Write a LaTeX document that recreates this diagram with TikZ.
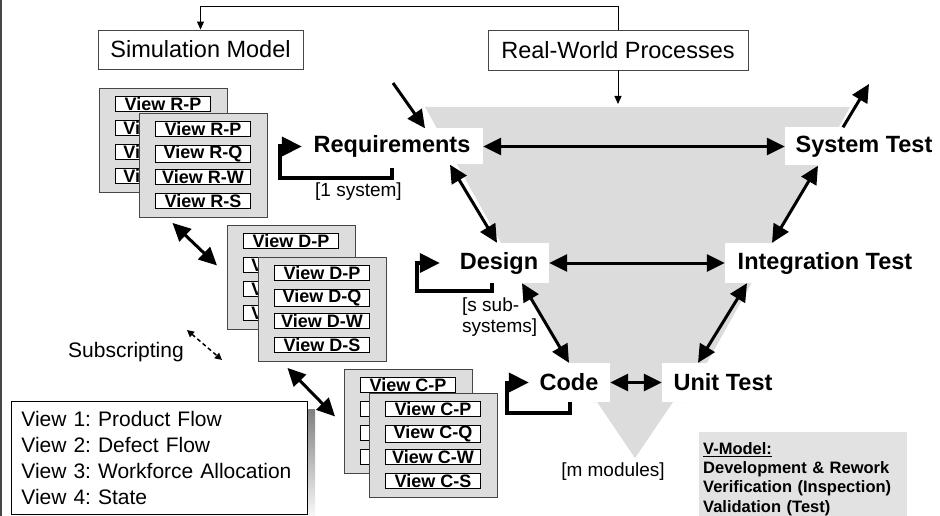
\documentclass[tikz,border=0pt]{standalone}
\usepackage{fontspec}
\setmainfont{Liberation Sans}
\usetikzlibrary{arrows.meta,calc}
\frenchspacing

\definecolor{vgray}{RGB}{220,220,220}
\definecolor{cardgray}{RGB}{221,221,221}
\definecolor{notegray}{RGB}{226,226,226}
\definecolor{shade}{RGB}{112,112,112}
\definecolor{framegray}{RGB}{70,70,70}

% a stack of two view cards: #1 letter, #2/#3 back card corner,
% #4/#5 front card corner, #6 what still shows of the covered back rows
\newcommand\viewstack[6]{%
  \node[card, anchor=north west] (#1b) at (#2,#3) {};
  \node[vlabel, anchor=north west] (#1b-1) at ([xshift=16pt,yshift=-8pt]#1b.north west) {View #1-P};
  \foreach \i [evaluate=\i as \dy using -8-24*(\i-1)] in {2,3,4}
    \node[vlabel, covered, anchor=north west] (#1b-\i) at ([xshift=16pt,yshift=\dy pt]#1b.north west) {#6};
  \node[card, anchor=north west] (#1f) at (#4,#5) {};
  \foreach \s [count=\i, evaluate=\i as \dy using -8-24*(\i-1)] in {P,Q,W,S}
    \node[vlabel, anchor=north west] (#1f-\i) at ([xshift=16pt,yshift=\dy pt]#1f.north west) {View #1-\s};
}

\begin{document}
\begin{tikzpicture}[x=1pt,y=-1pt,
  stage/.style={fill=white, inner sep=0, minimum height=38,
    font=\fontsize{23.5}{28}\selectfont\bfseries},
  topbox/.style={draw=framegray, line width=0.9pt, fill=white, inner sep=0,
    font=\fontsize{23.5}{28}\selectfont},
  card/.style={draw=framegray, line width=0.9pt, fill=cardgray,
    minimum width=128, minimum height=104, inner sep=0},
  vlabel/.style={draw=black, line width=0.9pt, fill=white, minimum width=95,
    minimum height=15, inner sep=0, font=\fontsize{18}{18}\selectfont\bfseries},
  covered/.style={text width=79, inner xsep=8, align=left},
  note/.style={font=\fontsize{19}{21}\selectfont, align=left, inner sep=0},
  dbl/.style={line width=3pt, >={Triangle[length=18pt,width=17pt]}, <->},
  single/.style={line width=3pt, >={Triangle[length=18pt,width=17pt]}, ->},
  thinarr/.style={line width=1pt, >={Triangle[length=8pt,width=7pt]}, ->},
  selfloop/.style={line width=4pt, line join=miter,
    >={Triangle[length=20pt,width=19pt]}, ->},
  subarr/.style={line width=1.5pt, dash pattern=on 4pt off 3pt,
    >={Triangle[length=7pt,width=7pt]}, <->},
  legendbox/.style={draw=black, line width=0.9pt, fill=white, align=left,
    text width=276, inner xsep=10, minimum height=113,
    font=\fontsize{21}{25.7}\selectfont},
  notebox/.style={fill=notegray, align=left, text width=200, inner xsep=4,
    inner ysep=10, font=\fontsize{16.5}{19.3}\selectfont\bfseries}
]
\useasboundingbox (0,0) rectangle (940,516);

% page frame on the left
\draw[framegray, line width=1.5pt] (1,0) -- (1,516);

% V-shaped process funnel ending in a down arrow
\fill[vgray] (425,107) -- (850,107) -- (685,402) -- (673,402) -- (635,458)
  -- (597,402) -- (590,402) -- cycle;

% model and reality
\node[topbox, minimum width=205, minimum height=39] (sim) at (200.5,49.5) {Simulation Model};
\node[topbox, minimum width=260, minimum height=40] (rw) at (618,50) {Real-World Processes};
\draw[thinarr] (rw.north) -- ++(0,-23) -| (sim.north);
\coordinate (vtop) at (618,104);
\draw[thinarr] (rw.south) -- (vtop);

% V-model stages
\node[stage, minimum width=182, minimum height=36] (req) at (392,146.5) {Requirements};
\node[stage, minimum width=158] (sys) at (864,146.5) {System Test};
\node[stage, minimum width=100, minimum height=40] (des) at (499,263) {Design};
\node[stage, minimum width=200, minimum height=40] (integ) at (825,263) {Integration Test};
\node[stage, minimum width=82, minimum height=39] (code) at (569,382.5) {Code};
\node[stage, minimum width=122, minimum height=39] (unit) at (723,382.5) {Unit Test};

\draw[dbl] (req.east) -- (sys.west);
\draw[dbl] ([xshift=58pt]req.south) -- ([xshift=-2pt]des.north);
\draw[dbl] ([xshift=-46pt]sys.south) -- ([xshift=-53pt]integ.north);
\draw[dbl] (des.east) -- (integ.west);
\draw[dbl] ([xshift=23pt]des.south) -- (code.north);
\draw[dbl] ([xshift=-78pt]integ.south) -- ([xshift=-25pt]unit.north);
\draw[dbl] (code.east) -- (unit.west);

\coordinate (feed) at (393,83);
\coordinate (exit) at (869,84);
\draw[single] (feed) -- ([xshift=33pt]req.north);
\draw[single] ([xshift=-21pt]sys.north) -- (exit);

% rework loops
\draw[selfloop] ([yshift=-3pt]req.south) -- ++(0,10) -| ([xshift=-21pt]req.west) -- ([xshift=1pt]req.west);
\draw[selfloop] ([xshift=-7pt]des.south) -- ++(0,8) -| ([xshift=-32pt]des.west) -- ([xshift=-9pt]des.west);
\draw[selfloop] ([xshift=1pt]code.south) -- ++(0,11) -| ([xshift=-21pt]code.west) -- ([xshift=1pt]code.west);

\node[note] (n1) at (358.5,192) {[1 system]};
\node[note, anchor=west] (n2) at (462,317.5) {[s sub-\\systems]};
\node[note] (n3) at (613,472) {[m modules]};

% view cards of the simulation model
\viewstack{R}{99}{88}{139}{113}{Vi}
\viewstack{D}{227}{225}{258}{257}{V}
\viewstack{C}{344}{369}{369}{393}{}

\draw[dbl] ([xshift=-31pt,yshift=-5pt]Rf.south) -- ([xshift=-10pt,yshift=12pt]Db.west);
\draw[dbl] ([xshift=-35pt,yshift=-6pt]Df.south) -- ([xshift=-9pt,yshift=5pt]Cb.west);

\node[font=\fontsize{21}{25}\selectfont] (subs) at (126,352) {Subscripting};
\coordinate (subA) at (187,330);
\coordinate (subB) at (222,360);
\draw[subarr] (subA) -- (subB);

% legend with shadow
\fill[shade] (19,409) rectangle (315,522);
\node[legendbox, anchor=north west] (legend) at (11,401)
  {View 1: Product Flow\\View 2: Defect Flow\\View 3: Workforce Allocation\\View 4: State};

% V-model key
\node[notebox, anchor=north west] (vmodel) at (699,432)
  {\underline{V-Model:}\\Development \& Rework\\Verification (Inspection)\\Validation (Test)};
\end{tikzpicture}
\end{document}
